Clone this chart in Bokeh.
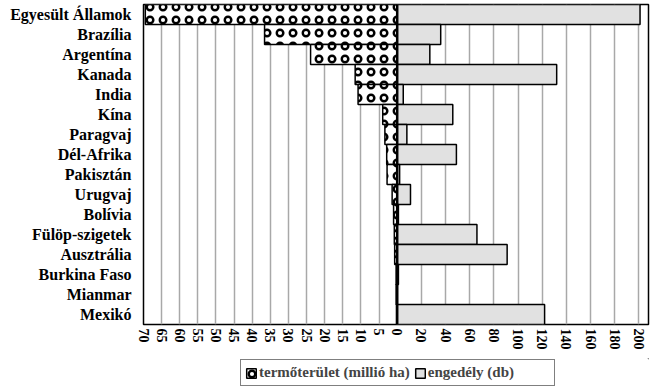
from bokeh.plotting import figure
from bokeh.layouts import column
from bokeh.models import (FactorRange, FixedTicker, CustomJSTickFormatter, Span,
                          Legend, LegendItem, ColumnDataSource)
from bokeh.embed import file_html
from bokeh.resources import INLINE

countries = ["Egyesült Államok", "Brazília", "Argentína", "Kanada", "India", "Kína",
             "Paragvaj", "Dél-Afrika", "Pakisztán", "Urugvaj", "Bolívia",
             "Fülöp-szigetek", "Ausztrália", "Burkina Faso", "Mianmar", "Mexikó"]
area = [69.5, 36.6, 23.9, 11.6, 10.8, 4.0, 3.4, 2.9, 2.8, 1.4, 1.0, 0.8, 0.7, 0.3, 0.3, 0.2]
approvals = [201, 36, 27, 132, 5, 46, 8, 49, 2, 11, 1, 66, 91, 1, 0, 122]
area_ticks = [70, 65, 60, 55, 50, 45, 40, 35, 30, 25, 20, 15, 10, 5, 0]
approval_ticks = [20, 40, 60, 80, 100, 120, 140, 160, 180, 200]
area_label = "termőterület (millió ha)"
approval_label = "engedély (db)"

K = 3  # one million ha on the left half equals 3 units of the right half

FONT = "Liberation Serif"

src = ColumnDataSource(dict(
    country=countries,
    area_left=[-K * a for a in area],
    zero=[0] * len(countries),
    approvals=approvals,
))

p = figure(width=652, height=358, y_range=FactorRange(*countries[::-1]),
           x_range=(-K * 70, 208), output_backend="svg", toolbar_location=None,
           min_border_left=143, min_border_right=4, min_border_top=4,
           min_border_bottom=34)

area_style = dict(fill_color="white", line_color="black", line_width=1.5,
                  hatch_pattern="ring", hatch_color="black",
                  hatch_scale=13, hatch_weight=2.4)
appr_style = dict(fill_color="#e1e1e1", line_color="black", line_width=1.5)

r1 = p.hbar(y="country", left="area_left", right="zero", height=1.0, source=src,
            **area_style)
r2 = p.hbar(y="country", left="zero", right="approvals", height=1.0, source=src,
            **appr_style)

p.add_layout(Span(location=0, dimension="height", line_color="black", line_width=2.5))

ticks = [-K * t for t in area_ticks] + approval_ticks
p.xaxis.ticker = FixedTicker(ticks=ticks)
p.xaxis.formatter = CustomJSTickFormatter(
    args=dict(k=K), code="return tick < 0 ? String(Math.round(-tick / k)) : String(Math.round(tick));")
p.xaxis.major_label_orientation = "vertical"
p.xaxis.major_label_text_font = FONT
p.xaxis.major_label_text_font_style = "bold"
p.xaxis.major_label_text_font_size = "14px"
p.xaxis.major_label_text_color = "black"
p.xaxis.major_tick_out = 0
p.xaxis.major_tick_in = 0
p.xaxis.minor_tick_out = 0
p.xaxis.axis_line_color = None
p.xaxis.major_label_standoff = 4

p.yaxis.major_label_text_font = FONT
p.yaxis.major_label_text_font_style = "bold"
p.yaxis.major_label_text_font_size = "16px"
p.yaxis.major_label_text_color = "black"
p.yaxis.major_tick_out = 0
p.yaxis.major_tick_in = 0
p.yaxis.axis_line_color = None
p.yaxis.major_label_standoff = 12

p.xgrid.grid_line_color = "#a8a8a8"
p.xgrid.grid_line_width = 1.5
p.ygrid.grid_line_color = None
p.outline_line_color = "black"
p.outline_line_width = 1.5
p.y_range.range_padding = 0
p.y_range.group_padding = 0

# legend strip below the chart (its sample glyphs lie outside the visible range)
lg = figure(width=652, height=31, x_range=(0, 1), y_range=(0, 1),
            output_backend="svg", toolbar_location=None,
            min_border_left=0, min_border_right=0, min_border_top=0,
            min_border_bottom=0)
lg.axis.visible = False
lg.grid.visible = False
lg.outline_line_color = None
sample = ColumnDataSource(dict(y=[10], left=[10], right=[11]))
g1 = lg.hbar(y="y", left="left", right="right", height=1, source=sample, **area_style)
g2 = lg.hbar(y="y", left="left", right="right", height=1, source=sample, **appr_style)

legend = Legend(items=[LegendItem(label=area_label, renderers=[g1]),
                       LegendItem(label=approval_label, renderers=[g2])],
                orientation="horizontal", location=(97, 3),
                border_line_color="black", border_line_width=1.5,
                padding=4, margin=0, spacing=4,
                glyph_width=12, glyph_height=12, label_standoff=2,
                label_width=122,
                label_text_font=FONT, label_text_font_style="bold",
                label_text_font_size="15px", label_height=17)
lg.add_layout(legend, "center")

layout = column(p, lg, spacing=0)
open("out.html", "w").write(file_html(layout, INLINE))
